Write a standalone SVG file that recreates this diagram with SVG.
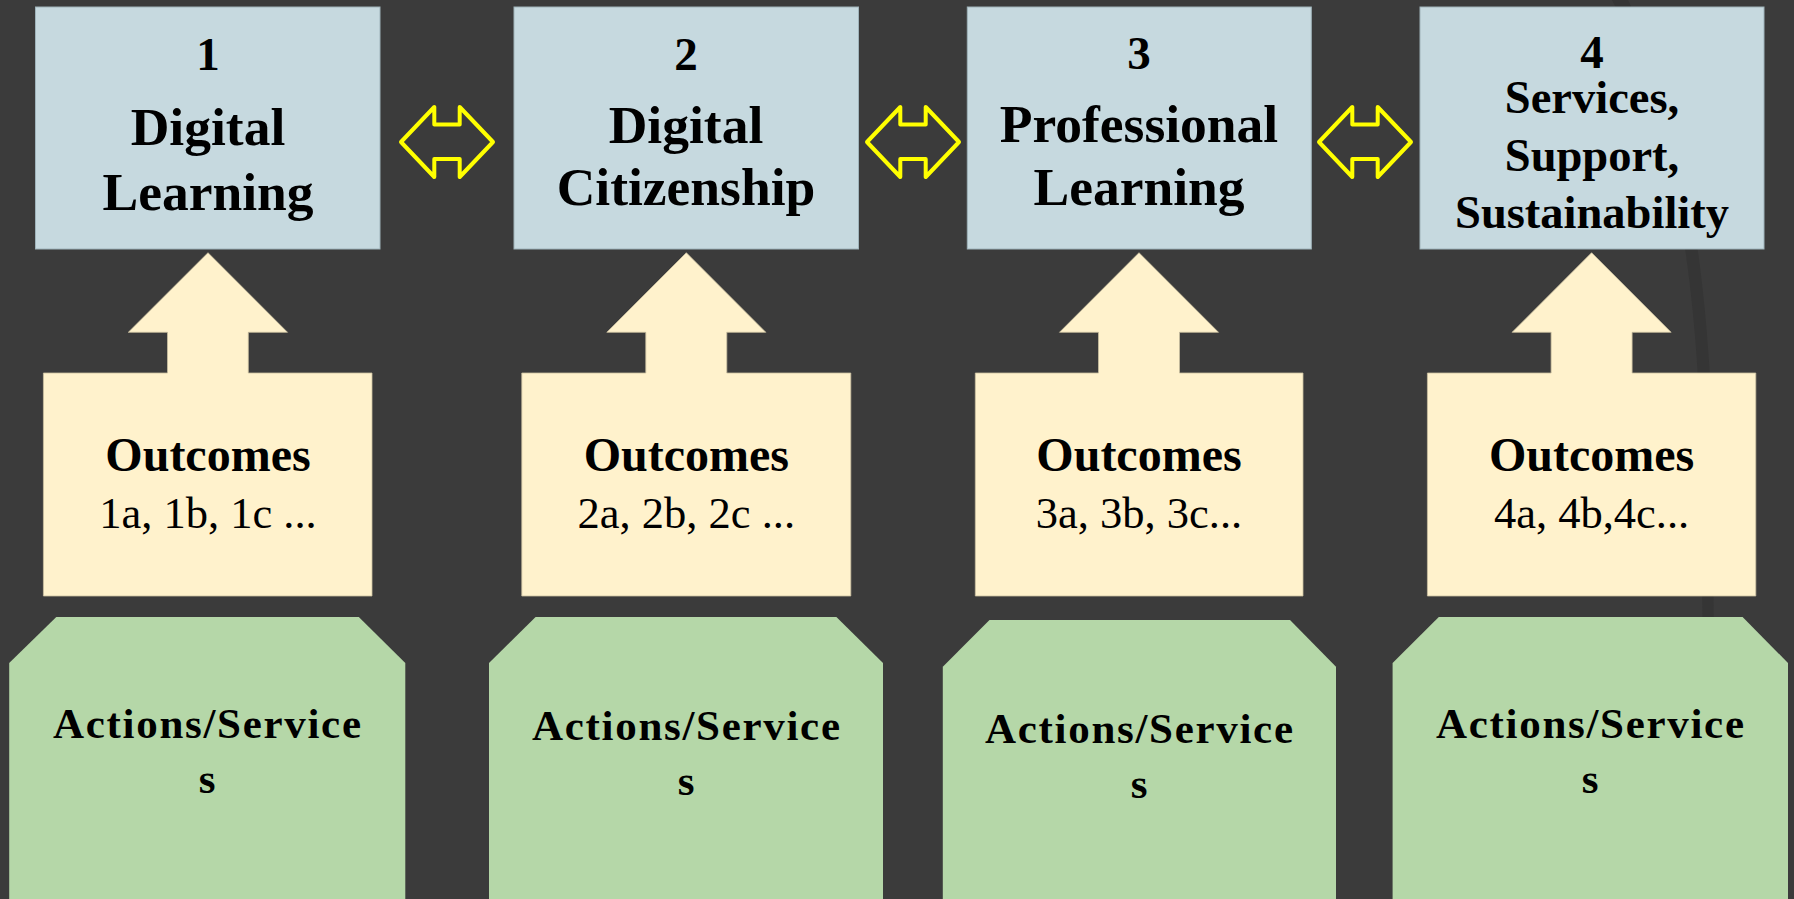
<svg xmlns="http://www.w3.org/2000/svg" width="1794" height="899" viewBox="0 0 1794 899">
<defs>
<style>
.bg{fill:#3b3b3b}
.blue{fill:#c6d9df;stroke:#9fb3ba;stroke-width:1}
.cream{fill:#fff2cc;stroke:#c9bf9f;stroke-width:0.8}
.green{fill:#b5d7a8}
.dbl{fill:none;stroke:#ffff00;stroke-width:4;stroke-linejoin:round}
text{font-family:"Liberation Serif","Times New Roman",serif;fill:#000;text-anchor:middle}
.num{font-size:47px;font-weight:bold}
.title{font-size:53.5px;font-weight:bold}
.title4{font-size:46.5px;font-weight:bold}
.oh{font-size:48px;font-weight:bold}
.ol{font-size:44.5px}
.act{font-size:43px;font-weight:bold}
</style>
<path id="dblarrow" d="M -46 142 L -12.7 107 L -12.7 124.5 L 12.7 124.5 L 12.7 107 L 46 142 L 12.7 177 L 12.7 159 L -12.7 159 L -12.7 177 Z"/>
</defs>
<rect class="bg" x="0" y="0" width="1794" height="899"/>
<path d="M 1612 0 Q 1690 150 1700 420 L 1706 899 L 1716 899 L 1712 420 Q 1702 150 1628 0 Z" fill="#353535"/>

<g id="connectors">
<use href="#dblarrow" class="dbl" x="447"/>
<use href="#dblarrow" class="dbl" x="913"/>
<use href="#dblarrow" class="dbl" x="1365"/>
</g>

<g id="node-1">
<rect class="blue" x="35.5" y="7" width="344.5" height="242"/>
<text class="num" x="208" y="70">1</text>
<text class="title" x="208" y="145">Digital</text>
<text class="title" x="208" y="210">Learning</text>
</g>
<g id="node-2">
<rect class="blue" x="514" y="7" width="344.5" height="242"/>
<text class="num" x="686" y="70">2</text>
<text class="title" x="686" y="143">Digital</text>
<text class="title" x="686" y="205">Citizenship</text>
</g>
<g id="node-3">
<rect class="blue" x="967.3" y="7" width="344" height="242"/>
<text class="num" x="1139" y="69">3</text>
<text class="title" x="1139" y="142">Professional</text>
<text class="title" x="1139" y="205">Learning</text>
</g>
<g id="node-4">
<rect class="blue" x="1420" y="7" width="344" height="242"/>
<text class="num" x="1592" y="68">4</text>
<text class="title4" x="1592" y="113">Services,</text>
<text class="title4" x="1592" y="171">Support,</text>
<text class="title4" x="1592" y="228">Sustainability</text>
</g>

<g id="outcomes-1">
<path class="cream" d="M 43.4 373 L 167.5 373 L 167.5 332.3 L 128.3 332.3 L 208 252.7 L 287.5 332.3 L 248.3 332.3 L 248.3 373 L 372 373 L 372 596 L 43.4 596 Z"/>
<text class="oh" x="208" y="471">Outcomes</text>
<text class="ol" x="208" y="528">1a, 1b, 1c ...</text>
</g>
<g id="outcomes-2">
<path class="cream" d="M 521.8 373 L 645.8 373 L 645.8 332.3 L 606.8 332.3 L 686.3 252.7 L 765.8 332.3 L 726.8 332.3 L 726.8 373 L 850.8 373 L 850.8 596 L 521.8 596 Z"/>
<text class="oh" x="686.3" y="471">Outcomes</text>
<text class="ol" x="686.3" y="528">2a, 2b, 2c ...</text>
</g>
<g id="outcomes-3">
<path class="cream" d="M 975.3 373 L 1098.5 373 L 1098.5 332.3 L 1059.5 332.3 L 1139 252.7 L 1218.5 332.3 L 1179.5 332.3 L 1179.5 373 L 1303 373 L 1303 596 L 975.3 596 Z"/>
<text class="oh" x="1139" y="471">Outcomes</text>
<text class="ol" x="1139" y="528">3a, 3b, 3c...</text>
</g>
<g id="outcomes-4">
<path class="cream" d="M 1427.4 373 L 1551.1 373 L 1551.1 332.3 L 1512.1 332.3 L 1591.6 252.7 L 1671.1 332.3 L 1632.1 332.3 L 1632.1 373 L 1755.8 373 L 1755.8 596 L 1427.4 596 Z"/>
<text class="oh" x="1591.6" y="471">Outcomes</text>
<text class="ol" x="1591.6" y="528">4a, 4b,4c...</text>
</g>

<g id="actions-1">
<path class="green" d="M 9.2 663 L 56.3 617 L 358.8 617 L 405.3 663 L 405.3 899 L 9.2 899 Z"/>
<text class="act" x="207" y="738" textLength="308">Actions/Service</text>
<text class="act" x="207" y="793">s</text>
</g>
<g id="actions-2">
<path class="green" d="M 489 663 L 535.6 617 L 836.4 617 L 883 663 L 883 899 L 489 899 Z"/>
<text class="act" x="686" y="740" textLength="308">Actions/Service</text>
<text class="act" x="686" y="795">s</text>
</g>
<g id="actions-3">
<path class="green" d="M 942.8 666.7 L 989.5 620 L 1290 620 L 1336 666.7 L 1336 899 L 942.8 899 Z"/>
<text class="act" x="1139" y="743" textLength="308">Actions/Service</text>
<text class="act" x="1139" y="798">s</text>
</g>
<g id="actions-4">
<path class="green" d="M 1392.6 663 L 1438.8 617 L 1742.6 617 L 1788 663 L 1788 899 L 1392.6 899 Z"/>
<text class="act" x="1590" y="738" textLength="308">Actions/Service</text>
<text class="act" x="1590" y="793">s</text>
</g>
</svg>
